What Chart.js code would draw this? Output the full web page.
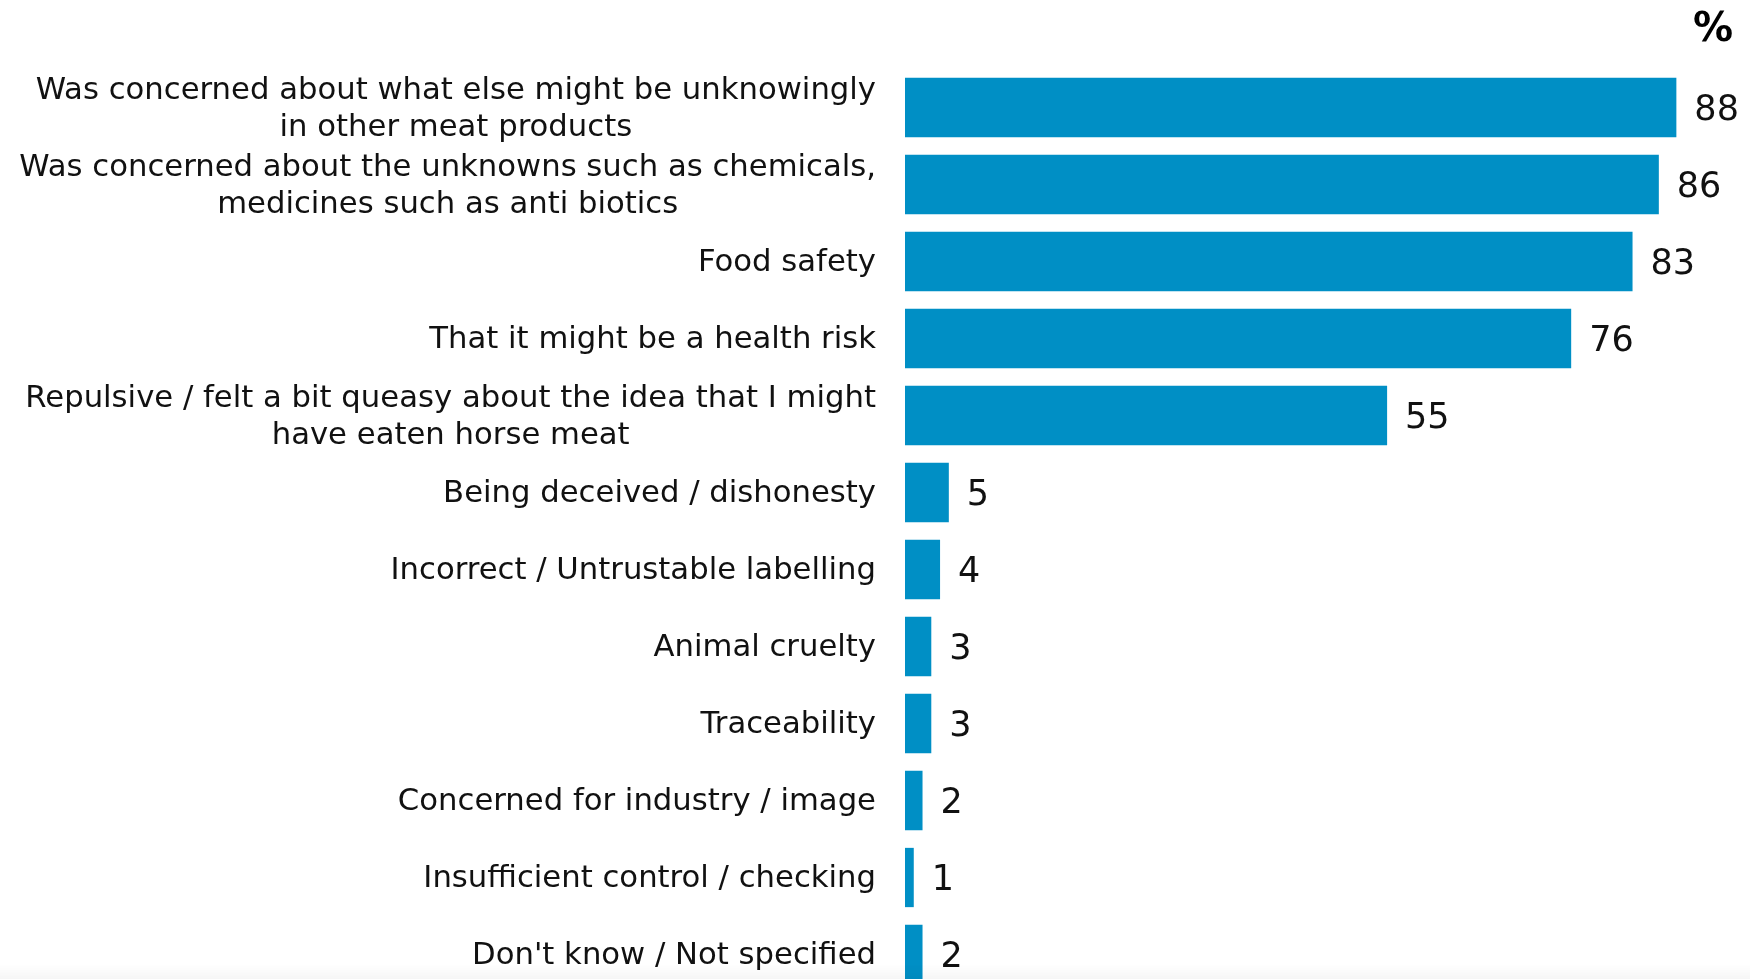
<!DOCTYPE html>
<html>
<head>
<meta charset="utf-8">
<script src="https://cdn.jsdelivr.net/npm/chart.js@4/dist/chart.umd.min.js"></script>
<style>
  html, body { margin: 0; padding: 0; background: #fff; overflow: hidden; }
  #wrap { position: relative; width: 1750px; height: 993px; }
  #fade { position: absolute; left: 0; top: 964px; width: 1750px; height: 15px;
          background: linear-gradient(rgba(0,0,0,0), rgba(0,0,0,0.035)); pointer-events: none; }
</style>
</head>
<body>
<div id="wrap"><canvas id="c"></canvas></div>
<div id="fade"></div>
<script>
/* ==== data ========================================================= */
const categories = [
  ['Was concerned about what else might be unknowingly', 'in other meat products'],
  ['Was concerned about the unknowns such as chemicals,', 'medicines such as anti biotics'],
  ['Food safety'],
  ['That it might be a health risk'],
  ['Repulsive / felt a bit queasy about the idea that I might', 'have eaten horse meat'],
  ['Being deceived / dishonesty'],
  ['Incorrect / Untrustable labelling'],
  ['Animal cruelty'],
  ['Traceability'],
  ['Concerned for industry / image'],
  ['Insufficient control / checking'],
  ["Don't know / Not specified"]
];
const values = [88, 86, 83, 76, 55, 5, 4, 3, 3, 2, 1, 2];
const unitLabel = '%';

const FONT = '"DejaVu Sans", Verdana, sans-serif';
const BLUE = '#008fc5';

/* ==== labels plugin ================================================ */
// category labels: block right-aligned, lines centred on each other
const labelsPlugin = {
  id: 'labels',
  afterDatasetsDraw(chart) {
    const { ctx, chartArea } = chart;
    const y = chart.scales.y, meta = chart.getDatasetMeta(0);
    ctx.save();
    ctx.fillStyle = '#111';
    ctx.textBaseline = 'middle';
    ctx.textAlign = 'center';
    ctx.font = `30.7px ${FONT}`;
    const right = chartArea.left - 29, lh = 37;
    categories.forEach((lines, i) => {
      const cy = y.getPixelForTick(i) + 2;
      const w = Math.max(...lines.map(l => ctx.measureText(l).width));
      const cx = right - w / 2;
      lines.forEach((l, k) => ctx.fillText(l, cx, cy + (k - (lines.length - 1) / 2) * lh));
    });
    // value labels
    ctx.textAlign = 'left';
    ctx.font = `35px ${FONT}`;
    meta.data.forEach((bar, i) => ctx.fillText(String(values[i]), bar.x + 18, bar.y + 3));
    // unit
    ctx.font = `bold 40px ${FONT}`;
    ctx.textAlign = 'right';
    ctx.fillStyle = '#000';
    ctx.fillText(unitLabel, chartArea.right - 17, 31);
    ctx.restore();
  }
};

/* ==== chart ======================================================== */
new Chart(document.getElementById('c'), {
  type: 'bar',
  data: {
    labels: categories,
    datasets: [{
      data: values,
      backgroundColor: BLUE,
      borderWidth: 0,
      barPercentage: 0.77,
      categoryPercentage: 1
    }]
  },
  options: {
    indexAxis: 'y',
    responsive: true, maintainAspectRatio: false,
    animation: false,
    layout: { padding: { top: 69, bottom: 0, left: 0, right: 0 } },
    plugins: { legend: { display: false }, tooltip: { enabled: false } },
    scales: {
      x: { display: false, min: 0, max: 96.4 },
      y: {
        grid: { display: false }, border: { display: false },
        ticks: { display: false },
        afterFit: s => { s.width = 905; }
      }
    }
  },
  plugins: [labelsPlugin]
});
</script>
</body>
</html>
